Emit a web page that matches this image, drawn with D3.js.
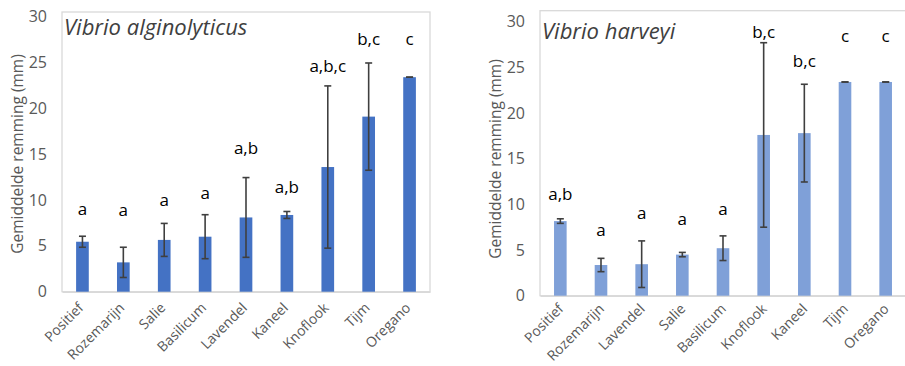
<!DOCTYPE html>
<html><head><meta charset="utf-8">
<script src="https://cdn.jsdelivr.net/npm/d3@7"></script>
<style>
html,body{margin:0;padding:0;background:#fff;}
svg{display:block;}
</style></head>
<body>
<svg id="chart" width="905" height="366"></svg>
<script>
// ---- Data: Vibrio alginolyticus ----
const titleA = "Vibrio alginolyticus";
const catsA = ["Positief","Rozemarijn","Salie","Basilicum","Lavendel","Kaneel","Knoflook","Tijm","Oregano"];
const valsA = [5.45, 3.2, 5.65, 6.0, 8.1, 8.37, 13.6, 19.1, 23.4];
const errA  = [0.6, 1.65, 1.8, 2.4, 4.35, 0.38, 8.85, 5.85, 0.0];
const lettersA = ["a","a","a","a","a,b","a,b","a,b,c","b,c","c"];
const letterYA = [9.1, 9.0, 10.1, 10.8, 15.7, 11.5, 24.7, 27.6, 27.6];

// ---- Data: Vibrio harveyi ----
const titleH = "Vibrio harveyi";
const catsH = ["Positief","Rozemarijn","Lavendel","Salie","Basilicum","Knoflook","Kaneel","Tijm","Oregano"];
const valsH = [8.17, 3.36, 3.45, 4.5, 5.2, 17.6, 17.8, 23.4, 23.4];
const errH  = [0.25, 0.73, 2.55, 0.24, 1.35, 10.1, 5.35, 0.0, 0.0];
const lettersH = ["a,b","a","a","a","a","b,c","b,c","c","c"];
const letterYH = [11.2, 7.3, 9.1, 8.5, 9.6, 28.9, 25.7, 28.5, 28.5];

const yTicks = [0, 5, 10, 15, 20, 25, 30];
const yTitle = "Gemiddelde remming (mm)";

const svg = d3.select("#chart");

function drawChart(cfg){
  const g = svg.append("g");
  const x = d3.scaleBand().domain(cfg.cats).range([cfg.left, cfg.right]).paddingInner(0.69).paddingOuter(0.345);
  const y = d3.scaleLinear().domain([0, 30]).range([cfg.bottom, cfg.top30]);

  // plot area border
  g.append("rect")
    .attr("x", cfg.left).attr("y", cfg.boxTop)
    .attr("width", cfg.right - cfg.left).attr("height", cfg.bottom - cfg.boxTop)
    .attr("fill", "none").attr("stroke", "#d9d9d9").attr("stroke-width", 1.3);

  // y axis
  const yAxis = d3.axisLeft(y).tickValues(yTicks).tickSize(0).tickPadding(15);
  const ya = g.append("g").attr("transform", `translate(${cfg.left},0)`).call(yAxis);
  ya.select(".domain").remove();
  ya.selectAll("text").attr("fill", "#595959").style("font-family", "'Open Sans', sans-serif").style("font-size", "16px");

  // y title
  g.append("text")
    .attr("transform", `translate(${cfg.yTitleX},${cfg.yTitleY}) rotate(-90)`)
    .attr("text-anchor", "middle").attr("dominant-baseline", "central")
    .attr("fill", "#595959")
    .style("font-family", "'Open Sans', sans-serif").style("font-size", "15.5px")
    .text(yTitle);

  // x axis
  const xAxis = d3.axisBottom(x).tickSize(0).tickPadding(0);
  const xa = g.append("g").attr("transform", `translate(0,${cfg.bottom})`).call(xAxis);
  xa.select(".domain").attr("stroke", "#d9d9d9").attr("stroke-width", 1.5);
  xa.selectAll("text")
    .attr("fill", "#595959")
    .style("font-family", "'Open Sans', sans-serif").style("font-size", "14px")
    .attr("text-anchor", "end")
    .attr("dy", null)
    .attr("transform", `translate(${cfg.lblDx},${cfg.lblDy}) rotate(-45)`);

  // bars
  g.selectAll("rect.bar").data(cfg.vals).enter().append("rect")
    .attr("class", "bar")
    .attr("x", (d, i) => x(cfg.cats[i]))
    .attr("width", x.bandwidth())
    .attr("y", d => y(d))
    .attr("height", d => y(0) - y(d))
    .attr("fill", cfg.color);

  // error bars
  const eg = g.append("g").attr("stroke", "#3f3f3f").attr("stroke-width", 1.6);
  cfg.vals.forEach((v, i) => {
    const cx = x(cfg.cats[i]) + x.bandwidth() / 2;
    const e = cfg.errs[i];
    const hw = 3.5;
    eg.append("line").attr("x1", cx).attr("x2", cx).attr("y1", y(v + e)).attr("y2", y(v - e));
    eg.append("line").attr("x1", cx - hw).attr("x2", cx + hw).attr("y1", y(v + e)).attr("y2", y(v + e));
    eg.append("line").attr("x1", cx - hw).attr("x2", cx + hw).attr("y1", y(v - e)).attr("y2", y(v - e));
  });

  // significance letters
  g.selectAll("text.letter").data(cfg.letters).enter().append("text")
    .attr("class", "letter")
    .attr("x", (d, i) => x(cfg.cats[i]) + x.bandwidth() / 2)
    .attr("y", (d, i) => y(cfg.letterY[i]))
    .attr("text-anchor", "middle").attr("dominant-baseline", "central")
    .attr("fill", "#000")
    .style("font-family", "'Open Sans', sans-serif").style("font-size", "17px")
    .text(d => d);

  // title
  g.append("text")
    .attr("x", cfg.left + 2).attr("y", cfg.titleY)
    .attr("fill", "#404040")
    .style("font-family", "'Open Sans', sans-serif").style("font-size", "22px").style("font-style", "italic")
    .text(cfg.title);
}

drawChart({
  title: titleA, cats: catsA, vals: valsA, errs: errA, letters: lettersA, letterY: letterYA,
  left: 62, right: 430, bottom: 291.7, top30: 16.7, boxTop: 12,
  yTitleX: 17, yTitleY: 154, titleY: 35, color: "#4472C4", lblDx: 2, lblDy: 17
});
drawChart({
  title: titleH, cats: catsH, vals: valsH, errs: errH, letters: lettersH, letterY: letterYH,
  left: 540, right: 906, bottom: 295.7, top30: 21.7, boxTop: 10.7,
  yTitleX: 495, yTitleY: 159, titleY: 39, color: "#7FA0D8", lblDx: 4, lblDy: 14
});
</script>
</body></html>
